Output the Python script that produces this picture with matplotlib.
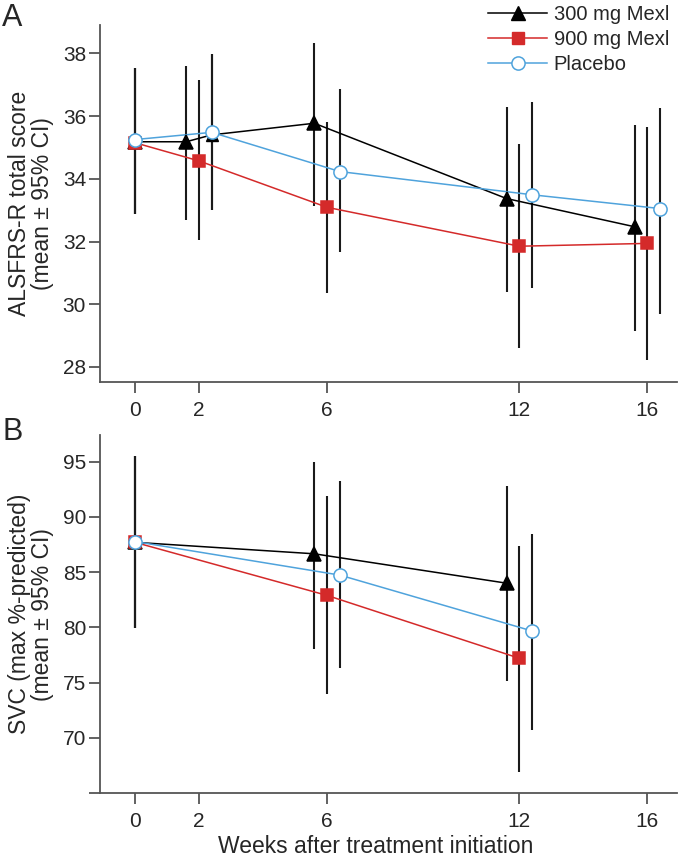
import numpy as np
import matplotlib
matplotlib.use('Agg')
from matplotlib import pyplot as plt
from matplotlib.lines import Line2D

plt.rcParams['font.family'] = ['Liberation Sans', 'DejaVu Sans']

# Panel A: ALSFRS-R total score
a_weeks_300 = [0, 2, 2, 6, 12, 16]
a_mean_300 = [35.18, 35.18, 35.40, 35.77, 33.37, 32.47]
a_lo_300 = [32.89, 32.68, 33.0, 33.13, 30.39, 29.15]
a_hi_300 = [37.52, 37.6, 37.97, 38.34, 36.28, 35.72]

a_weeks_900 = [0, 2, 6, 12, 16]
a_mean_900 = [35.15, 34.57, 33.09, 31.85, 31.94]
a_lo_900 = [32.89, 32.04, 30.36, 28.6, 28.21]
a_hi_900 = [37.52, 37.15, 35.8, 35.1, 35.66]

a_weeks_pl = [0, 2, 6, 12, 16]
a_mean_pl = [35.25, 35.48, 34.23, 33.49, 33.05]
a_lo_pl = [32.89, 33.0, 31.67, 30.53, 29.68]
a_hi_pl = [37.52, 37.97, 36.85, 36.44, 36.27]

# Panel B: SVC
b_weeks_300 = [0, 6, 12]
b_mean_300 = [87.7, 86.66, 84.0]
b_lo_300 = [79.94, 78.04, 75.18]
b_hi_300 = [95.5, 94.94, 92.8]

b_weeks_900 = [0, 6, 12]
b_mean_900 = [87.7, 82.89, 77.2]
b_lo_900 = [79.94, 73.92, 66.93]
b_hi_900 = [95.5, 91.9, 87.41]

b_weeks_pl = [0, 6, 12]
b_mean_pl = [87.77, 84.73, 79.67]
b_lo_pl = [79.94, 76.3, 70.69]
b_hi_pl = [95.5, 93.28, 88.43]

week_ticks = [0, 2, 6, 12, 16]
labels = ['300 mg Mexl', '900 mg Mexl', 'Placebo']

# horizontal offset so groups do not overlap
shift = 0.4

black = '#000000'
red = '#d42a2a'
blue = '#4fa3dc'
spine_col = '#555555'
text_col = '#262626'


def offset(weeks, d):
    return [w + d if w != 0 else 0 for w in weeks]


def draw_series(ax, x, mean, lo, hi, col, marker, ms, face, skip=None):
    ax.vlines(x, lo, hi, color='#1a1a1a', lw=1.5, zorder=2)
    ax.plot(x, mean, color=col, lw=1.1, zorder=3)
    idx = [i for i in range(len(x)) if i != skip]
    ax.plot([x[i] for i in idx], [mean[i] for i in idx], ls='none', marker=marker,
            ms=ms, mfc=face, mec=col, mew=1.1, zorder=4)
    if skip is not None:
        ax.plot(x[skip], mean[skip], marker=marker, ms=ms - 1, color=col, zorder=3.5)


def style_axis(ax):
    for s in ['top', 'right']:
        ax.spines[s].set_visible(False)
    for s in ['left', 'bottom']:
        ax.spines[s].set_color(spine_col)
        ax.spines[s].set_linewidth(1.3)
    ax.tick_params(direction='out', length=8, width=1.3, color=spine_col,
                   labelsize=15, labelcolor=text_col)
    ax.tick_params(axis='y', pad=2)
    ax.tick_params(axis='x', pad=6)
    ax.set_xlim(-1.09, 16.93)
    ax.set_xticks(week_ticks)


fig = plt.figure(figsize=(6.8, 8.56), dpi=100)
axA = fig.add_axes([0.147, 0.5537, 0.849, 0.417])
axB = fig.add_axes([0.147, 0.0736, 0.849, 0.418])

# panel A
xa = offset(a_weeks_300, -shift)
xa[2] = a_weeks_300[2] + shift  # 300 mg point hidden behind the placebo circle
draw_series(axA, xa, a_mean_300, a_lo_300, a_hi_300, black, '^', 10, black, skip=2)
draw_series(axA, offset(a_weeks_900, 0), a_mean_900, a_lo_900, a_hi_900, red, 's', 8, red)
draw_series(axA, offset(a_weeks_pl, shift), a_mean_pl, a_lo_pl, a_hi_pl, blue, 'o', 9.5, 'white')
style_axis(axA)
axA.set_ylim(27.52, 38.9)
axA.set_yticks([28, 30, 32, 34, 36, 38])
axA.set_ylabel('ALSFRS-R total score\n(mean ± 95% CI)', fontsize=16.5, color=text_col,
               labelpad=6, linespacing=1.0)

handles = [
    Line2D([], [], color=black, lw=1.1, marker='^', ms=10, mfc=black, mec=black),
    Line2D([], [], color=red, lw=1.1, marker='s', ms=8, mfc=red, mec=red),
    Line2D([], [], color=blue, lw=1.1, marker='o', ms=9.5, mfc='white', mec=blue, mew=1.1),
]
axA.legend(handles, labels, loc='upper right', bbox_to_anchor=(1.0, 1.08), frameon=False,
           fontsize=14.5, handlelength=2.9, handletextpad=0.35, labelspacing=0.3,
           borderaxespad=0, labelcolor=text_col)

# panel B
draw_series(axB, offset(b_weeks_300, -shift), b_mean_300, b_lo_300, b_hi_300, black, '^', 10, black)
draw_series(axB, offset(b_weeks_900, 0), b_mean_900, b_lo_900, b_hi_900, red, 's', 8, red)
draw_series(axB, offset(b_weeks_pl, shift), b_mean_pl, b_lo_pl, b_hi_pl, blue, 'o', 9.5, 'white')
style_axis(axB)
axB.set_ylim(65.0, 97.4)
axB.set_yticks([65, 70, 75, 80, 85, 90, 95])
axB.set_yticklabels(['', '70', '75', '80', '85', '90', '95'])
axB.set_ylabel('SVC (max %-predicted)\n(mean ± 95% CI)', fontsize=16.5, color=text_col,
               labelpad=6, linespacing=1.0)
fig.text(0.552, 0.004, 'Weeks after treatment initiation', fontsize=16.5, color=text_col,
         ha='center', va='baseline')

fig.text(0.003, 0.997, 'A', fontsize=22, va='top', ha='left', color=text_col)
fig.text(0.003, 0.513, 'B', fontsize=22, va='top', ha='left', color=text_col)

fig.savefig('out.png', dpi=100)
